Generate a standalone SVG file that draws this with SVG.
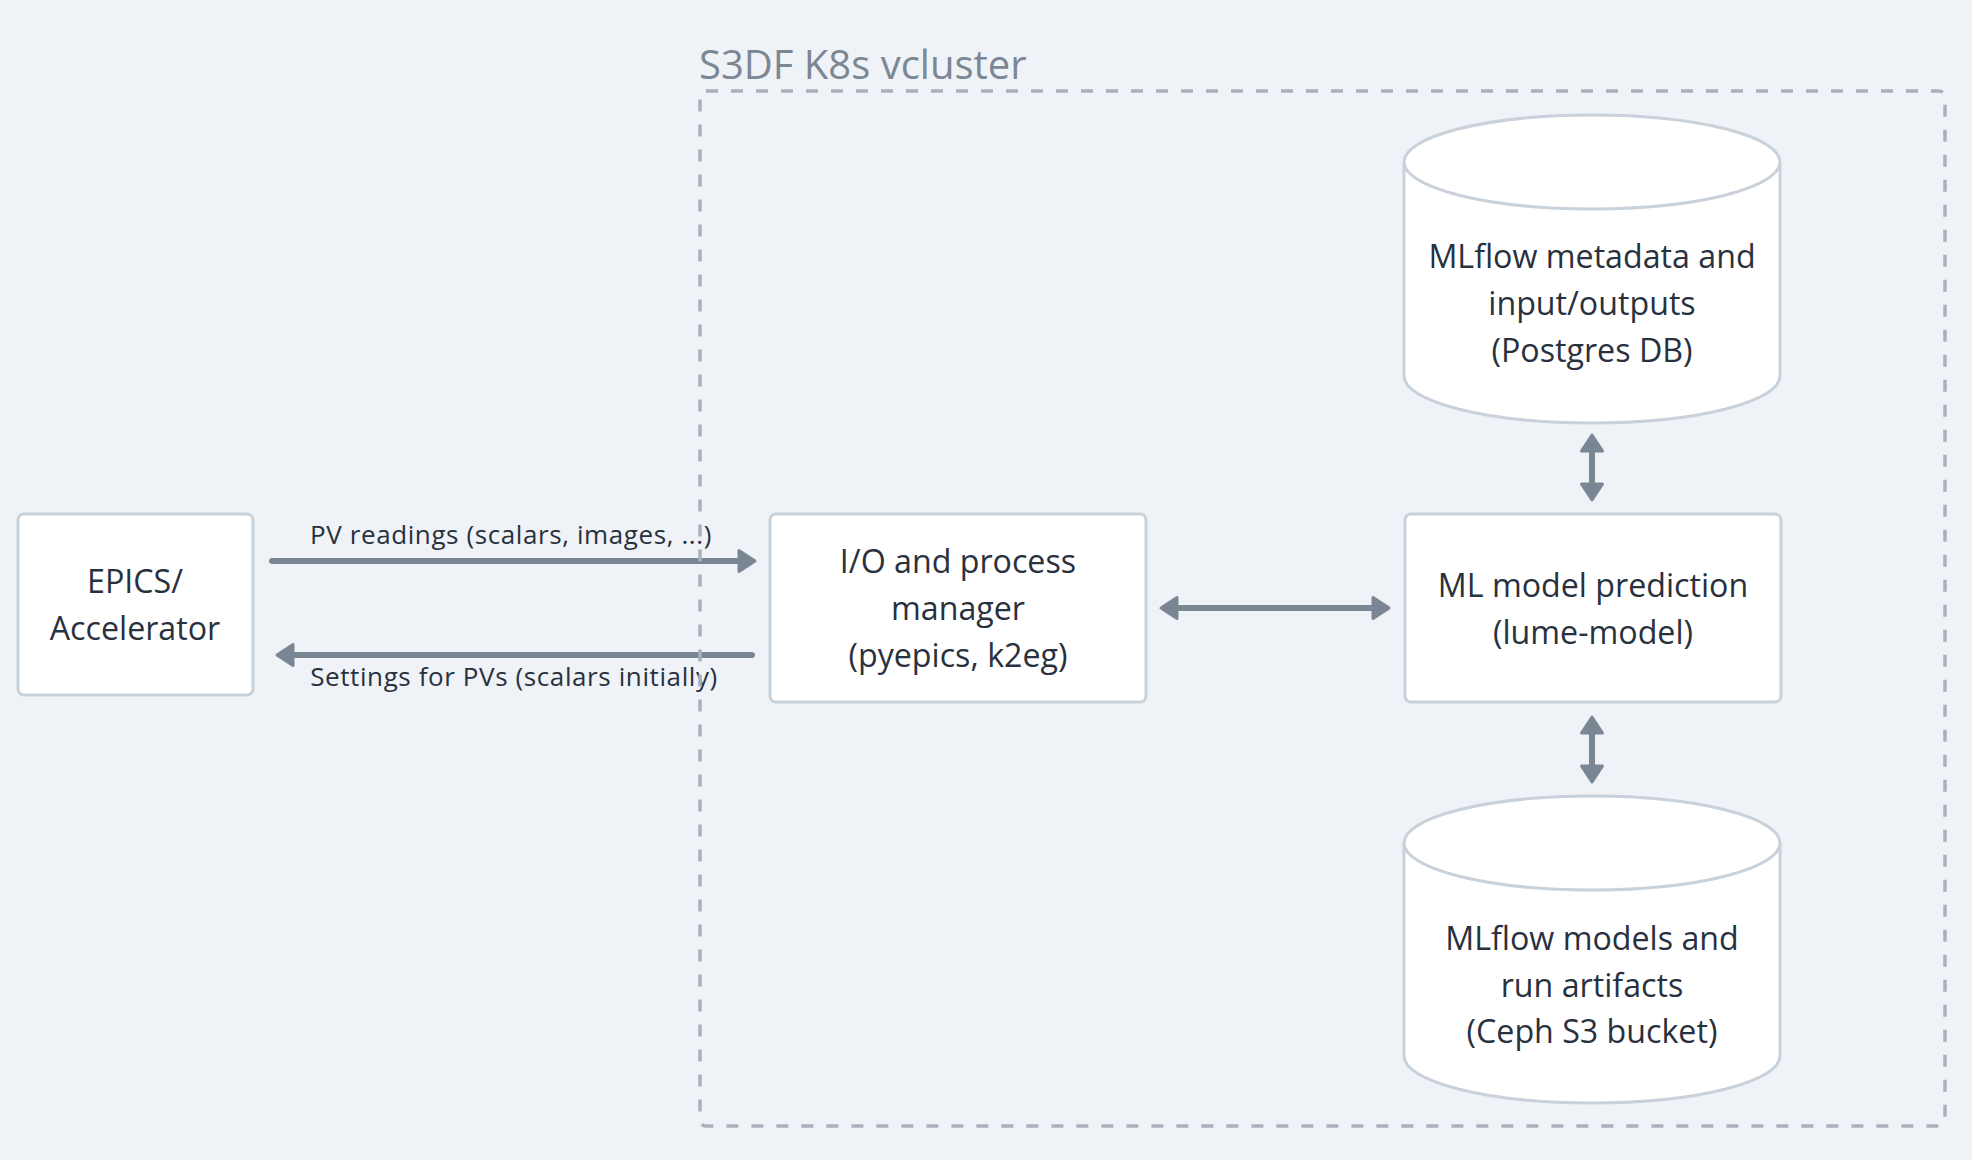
<svg xmlns="http://www.w3.org/2000/svg" width="1972" height="1160" viewBox="0 0 1972 1160">
  <style>
    .bg { fill: #eff3f7; }
    .node { fill: #ffffff; stroke: #c9d1db; stroke-width: 3; }
    .ntext { font-family: "Open Sans", "Noto Sans", sans-serif; font-size: 32.2px; fill: #28313d; text-anchor: middle; }
    .ltext { font-family: "Open Sans", "Noto Sans", sans-serif; font-size: 26px; letter-spacing: 0.6px; fill: #28313d; text-anchor: middle; }
    .title { font-family: "Open Sans", "Noto Sans", sans-serif; font-size: 40px; fill: #7c8795; }
    .cluster { fill: none; stroke: #a8b1bd; stroke-width: 3.5; stroke-dasharray: 12 13; }
    .conn { fill: none; stroke: #7b8694; stroke-width: 6; stroke-linecap: round; }
  </style>
  <defs>
    <marker id="ah" markerUnits="userSpaceOnUse" viewBox="-4 -16 26 32" markerWidth="26" markerHeight="32" refX="8" refY="0" orient="auto-start-reverse">
      <path d="M0,-10.5 L16,0 L0,10.5 Z" fill="#7b8694" stroke="#7b8694" stroke-width="3" stroke-linejoin="round"/>
    </marker>
  </defs>
  <rect class="bg" x="0" y="0" width="1972" height="1160"/>

  <g id="connectors">
    <g id="edge-pv-readings">
      <path class="conn" d="M272,561 L747,561" marker-end="url(#ah)"/>
      <text class="ltext" x="511" y="544">PV readings (scalars, images, ...)</text>
    </g>
    <g id="edge-settings">
      <path class="conn" d="M285,655 L752,655" marker-start="url(#ah)"/>
      <text class="ltext" x="514" y="686">Settings for PVs (scalars initially)</text>
    </g>
    <path id="edge-io-ml" class="conn" d="M1169,608 L1381,608" marker-start="url(#ah)" marker-end="url(#ah)"/>
    <path id="edge-ml-db" class="conn" d="M1592,443 L1592,492" marker-start="url(#ah)" marker-end="url(#ah)"/>
    <path id="edge-ml-s3" class="conn" d="M1592,725 L1592,774" marker-start="url(#ah)" marker-end="url(#ah)"/>
  </g>

  <g id="cluster">
    <rect class="cluster" x="700" y="91" width="1245" height="1035" rx="6"/>
    <text class="title" x="699" y="79">S3DF K8s vcluster</text>
  </g>

  <g id="epics">
    <rect class="node" x="18" y="514" width="235" height="181" rx="6"/>
    <text class="ntext" x="135" y="593">EPICS/</text>
    <text class="ntext" x="135" y="640">Accelerator</text>
  </g>

  <g id="io-manager">
    <rect class="node" x="770" y="514" width="376" height="188" rx="6"/>
    <text class="ntext" x="958" y="573">I/O and process</text>
    <text class="ntext" x="958" y="620">manager</text>
    <text class="ntext" x="958" y="667">(pyepics, k2eg)</text>
  </g>

  <g id="ml-model">
    <rect class="node" x="1405" y="514" width="376" height="188" rx="6"/>
    <text class="ntext" x="1593" y="597">ML model prediction</text>
    <text class="ntext" x="1593" y="644">(lume-model)</text>
  </g>

  <g id="postgres-db">
    <path class="node" d="M1404,162 A188,47 0 0 1 1780,162 L1780,376 A188,47 0 0 1 1404,376 Z"/>
    <path class="node" fill="none" d="M1404,162 A188,47 0 0 0 1780,162"/>
    <text class="ntext" x="1592" y="268">MLflow metadata and</text>
    <text class="ntext" x="1592" y="315">input/outputs</text>
    <text class="ntext" x="1592" y="362">(Postgres DB)</text>
  </g>

  <g id="s3-bucket">
    <path class="node" d="M1404,843 A188,47 0 0 1 1780,843 L1780,1056 A188,47 0 0 1 1404,1056 Z"/>
    <path class="node" fill="none" d="M1404,843 A188,47 0 0 0 1780,843"/>
    <text class="ntext" x="1592" y="950">MLflow models and</text>
    <text class="ntext" x="1592" y="997">run artifacts</text>
    <text class="ntext" x="1592" y="1043">(Ceph S3 bucket)</text>
  </g>
</svg>
